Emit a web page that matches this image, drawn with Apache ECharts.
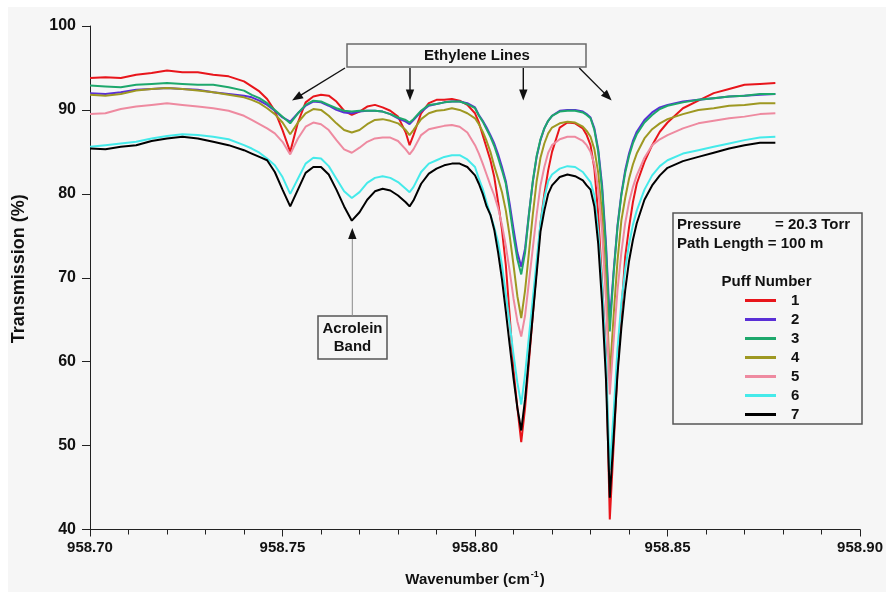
<!DOCTYPE html>
<html><head><meta charset="utf-8">
<script src="https://cdn.jsdelivr.net/npm/echarts@6/dist/echarts.min.js"></script>
<style>html,body{margin:0;padding:0;background:#fff;}#c{width:886px;height:592px;}</style>
</head><body><div id="c"></div>
<script>
// ---- data ----
const wavenumber = [
 958.700,958.704,958.708,958.712,958.716,958.720,958.724,958.728,958.732,958.736,958.740,
 958.742,958.744,958.746,958.748,958.750,958.752,958.754,958.756,958.758,958.760,958.762,958.764,958.766,958.768,958.770,958.772,958.774,958.776,958.778,958.780,958.782,958.783,958.784,958.786,958.788,958.790,958.792,958.794,958.796,958.798,958.800,
 958.801,958.802,958.803,958.804,958.805,958.806,958.807,958.808,958.809,958.810,958.811,958.812,958.813,958.814,958.815,958.816,958.817,958.818,958.819,958.820,
 958.822,958.824,958.826,958.828,
 958.829,958.830,958.831,958.832,958.833,958.834,958.835,958.836,958.837,958.838,958.839,958.840,958.841,958.842,
 958.844,958.846,958.848,958.850,
 958.854,958.858,958.862,958.866,958.870,958.874,958.878];

const puff1 = [93.8,93.9,93.8,94.2,94.4,94.7,94.5,94.5,94.2,94.0,93.4,
 92.8,92.2,91.3,89.9,87.6,85.0,88.5,90.9,91.6,91.8,91.7,91.0,89.9,89.4,89.8,90.4,90.6,90.3,89.9,89.2,87.3,85.8,87.0,89.6,90.8,91.2,91.2,91.3,91.1,90.6,89.6,
 88.5,87.0,85.5,84.0,82.0,79.0,75.7,71.5,65.5,59.0,54.5,50.4,54.5,60.0,65.5,71.0,76.5,80.0,82.8,85.0,
 87.9,88.5,88.4,87.8,
 87.0,85.8,83.0,77.5,69.5,61.0,41.2,50.0,59.0,66.0,72.5,76.0,79.0,81.2,
 83.8,85.8,87.4,88.5,
 90.2,91.1,92.0,92.5,93.0,93.1,93.2];

const puff2 = [92.0,91.9,92.1,92.4,92.5,92.6,92.5,92.4,92.1,91.9,91.7,
 91.5,91.1,90.6,89.9,89.1,88.6,89.6,90.5,91.0,90.9,90.5,90.0,89.7,89.6,89.8,89.9,89.9,89.8,89.5,89.0,88.6,88.3,88.8,89.8,90.5,90.7,90.9,91.0,91.0,90.8,90.3,
 89.4,88.7,87.9,87.0,86.0,84.7,83.2,81.5,78.8,75.8,73.0,71.3,73.5,77.6,81.4,84.4,86.4,87.8,88.7,89.3,
 89.9,90.0,90.0,89.8,
 89.5,89.1,87.8,85.3,81.0,74.2,64.8,70.8,76.2,80.0,82.8,84.8,86.3,87.4,
 88.8,89.7,90.3,90.6,
 91.0,91.2,91.4,91.6,91.7,91.8,91.9];

const puff3 = [92.9,92.8,92.7,93.0,93.1,93.2,93.1,93.0,93.0,92.7,92.3,
 91.8,91.4,90.8,90.0,89.2,88.4,89.6,90.6,91.1,91.0,90.6,90.2,89.9,89.8,89.9,89.9,89.9,89.8,89.5,89.1,88.8,88.5,88.9,89.9,90.6,90.7,90.9,91.0,91.0,90.7,90.2,
 89.3,88.6,87.7,86.8,85.7,84.3,82.8,81.2,78.2,75.0,72.2,70.4,73.0,77.5,81.5,84.5,86.5,87.8,88.7,89.3,
 89.8,89.9,89.9,89.7,
 89.4,89.0,87.6,85.0,80.5,73.5,63.6,70.5,76.0,79.8,82.5,84.5,86.0,87.1,
 88.5,89.4,90.1,90.5,
 90.9,91.2,91.4,91.6,91.7,91.9,91.9];

const puff4 = [91.8,91.7,91.9,92.3,92.5,92.6,92.5,92.3,92.1,91.8,91.5,
 91.2,90.8,90.2,89.5,88.5,87.1,88.5,89.6,90.1,90.0,89.3,88.4,87.6,87.3,87.6,88.3,88.8,88.9,88.7,88.4,87.6,87.0,87.6,88.9,89.6,89.9,90.0,90.2,90.0,89.6,89.0,
 88.3,87.4,86.3,85.0,83.3,81.8,80.2,78.0,75.0,71.5,67.8,65.2,68.5,73.0,77.5,81.5,84.3,86.0,87.2,87.9,
 88.4,88.6,88.5,88.0,
 87.5,86.8,85.3,82.5,77.5,69.5,58.3,65.5,72.0,76.8,79.5,81.8,83.5,84.8,
 86.6,87.7,88.4,88.9,
 89.5,90.0,90.2,90.5,90.6,90.8,90.8];

const puff5 = [89.5,89.6,90.1,90.4,90.6,90.8,90.6,90.4,90.2,89.9,89.3,
 88.8,88.3,87.8,87.2,86.2,84.7,86.6,88.0,88.5,88.3,87.6,86.4,85.3,84.9,85.5,86.2,86.6,86.7,86.7,86.3,85.3,84.7,85.3,87.0,87.7,87.9,88.1,88.2,88.0,87.3,85.8,
 84.8,83.6,82.3,81.0,79.8,78.3,76.3,73.8,70.8,67.5,64.8,63.0,65.5,69.5,73.5,77.5,81.0,83.2,84.9,85.8,
 86.5,86.8,86.8,86.3,
 85.8,85.0,83.5,80.5,75.5,67.5,56.1,62.5,68.5,73.0,76.5,79.0,80.8,82.2,
 84.3,85.8,86.5,87.0,
 87.8,88.4,88.7,89.0,89.2,89.5,89.6];

const puff6 = [85.6,85.8,86.0,86.2,86.6,86.9,87.1,87.0,86.8,86.5,85.8,
 85.4,84.9,84.2,83.4,82.0,80.0,81.8,83.6,84.3,84.2,83.3,81.8,80.3,79.5,80.2,81.3,81.9,82.1,81.9,81.4,80.6,80.2,80.8,82.6,83.6,84.0,84.4,84.6,84.6,84.1,83.2,
 81.8,80.6,79.0,77.5,76.0,74.2,71.5,68.0,64.5,60.8,57.5,54.9,58.5,63.0,67.5,72.0,76.5,79.5,81.5,82.3,
 83.0,83.3,83.2,82.6,
 82.0,81.4,79.8,75.5,69.0,60.5,47.1,54.0,61.5,67.0,71.0,74.0,76.3,78.0,
 80.5,82.2,83.3,84.0,
 84.8,85.2,85.6,86.0,86.4,86.7,86.8];

const puff7 = [85.4,85.3,85.6,85.8,86.3,86.6,86.8,86.6,86.2,85.8,85.2,
 84.8,84.4,84.0,82.6,80.5,78.5,80.5,82.5,83.2,83.2,82.3,80.5,78.5,76.8,77.8,79.3,80.3,80.6,80.4,79.8,79.0,78.5,79.2,81.2,82.4,83.0,83.4,83.6,83.6,83.2,82.2,
 81.2,80.0,78.5,77.5,75.7,73.0,69.8,66.0,62.0,58.0,54.5,51.8,55.5,60.5,65.5,70.5,75.5,78.0,80.0,81.0,
 82.0,82.3,82.1,81.6,
 81.0,80.5,78.5,74.0,67.0,58.0,43.8,51.0,58.5,64.0,68.5,72.0,74.5,76.5,
 79.3,81.0,82.2,83.1,
 83.9,84.4,84.9,85.4,85.8,86.1,86.1];

const puffNames = ['1','2','3','4','5','6','7'];
const puffSeries = [puff1, puff2, puff3, puff4, puff5, puff6, puff7];
const puffColors = ['#e8151b','#5a2fd6','#1ea86c','#9e9822','#ee8aa0','#45eaea','#000000'];

const FONT = '"Liberation Sans", Arial, sans-serif';

const chart = echarts.init(document.getElementById('c'), null, {renderer:'canvas'});

function arrow(x1,y1,x2,y2,color,lw,lineColor){
  const dx=x2-x1, dy=y2-y1, L=Math.hypot(dx,dy), ux=dx/L, uy=dy/L;
  const hl=11, hw=4.2;
  const bx=x2-hl*ux, by=y2-hl*uy;
  return [
    {type:'line', silent:true, shape:{x1:x1,y1:y1,x2:bx+2*ux,y2:by+2*uy}, style:{stroke:lineColor||color, lineWidth:lw}},
    {type:'polygon', silent:true, shape:{points:[[x2,y2],[bx-hw*uy,by+hw*ux],[bx+hw*uy,by-hw*ux]]}, style:{fill:color}}
  ];
}
function txt(x,y,s,align,size){
  return {type:'text', silent:true, x:x, y:y, style:{text:s, font:'bold '+(size||15)+'px '+FONT, fill:'#111', align:align||'left', verticalAlign:'middle'}};
}

const graphics = [
  {type:'rect', silent:true, shape:{x:0,y:0,width:886,height:7}, style:{fill:'#ffffff'}},
  {type:'rect', silent:true, shape:{x:0,y:0,width:8,height:592}, style:{fill:'#ffffff'}},
  // Ethylene lines box
  {type:'rect', silent:true, shape:{x:347,y:44,width:239,height:23}, style:{fill:'#f6f6f6', stroke:'#6a6a6a', lineWidth:1.5}},
  txt(477,56,'Ethylene Lines','center'),
  ...arrow(345,68,292,100.5,'#111',1.4),
  ...arrow(410,68,410,100.5,'#111',1.4),
  ...arrow(523.3,68,523.3,100.5,'#111',1.4),
  ...arrow(579.3,68,611.7,100.5,'#111',1.4),
  // Acrolein band
  {type:'rect', silent:true, shape:{x:318,y:316,width:69,height:43}, style:{fill:'#f6f6f6', stroke:'#555', lineWidth:1.5}},
  txt(352.5,328.5,'Acrolein','center'),
  txt(352.5,347,'Band','center'),
  ...arrow(352.3,316,352.3,228,'#111',1,'#8a8a8a'),
  // info / legend box
  {type:'rect', silent:true, shape:{x:673,y:213,width:189,height:211}, style:{fill:'#f6f6f6', stroke:'#555', lineWidth:1.5}},
  txt(677,225,'Pressure'),
  txt(775,225,'= 20.3 Torr'),
  txt(677,244,'Path Length = 100 m'),
  txt(766.5,282,'Puff Number','center')
];

chart.setOption({
  animation:false,
  backgroundColor:'#f6f6f6',
  grid:{left:90, right:24, top:26, bottom:62, containLabel:false},
  legend:{
    orient:'vertical', left:740, top:288, itemWidth:31, itemHeight:3, itemGap:4, icon:'rect',
    data:puffNames, selectedMode:false, z:10,
    textStyle:{fontFamily:FONT, fontWeight:'bold', fontSize:15, lineHeight:15, color:'#111', padding:[0,0,0,10]}
  },
  xAxis:{
    type:'value', min:958.70, max:958.90, interval:0.05,
    axisLine:{show:true, onZero:false, lineStyle:{color:'#222', width:1}},
    axisTick:{show:true, length:7, lineStyle:{color:'#222'}},
    minorTick:{show:true, splitNumber:5, length:5, lineStyle:{color:'#222'}},
    splitLine:{show:false},
    axisLabel:{formatter:v=>v.toFixed(2), fontFamily:FONT, fontWeight:'bold', fontSize:15, color:'#111', margin:11},
    name:'Wavenumber (cm{sup|-1})', nameLocation:'middle', nameGap:41,
    nameTextStyle:{fontFamily:FONT, fontWeight:'bold', fontSize:15, color:'#111',
      rich:{sup:{fontFamily:FONT, fontWeight:'bold', fontSize:9, color:'#111', verticalAlign:'top', padding:[0,1,9,1]}}}
  },
  yAxis:{
    type:'value', min:40, max:100, interval:10,
    axisLine:{show:true, onZero:false, lineStyle:{color:'#222', width:1}},
    axisTick:{show:true, length:8, lineStyle:{color:'#222'}},
    splitLine:{show:false},
    axisLabel:{fontFamily:FONT, fontWeight:'bold', fontSize:16, color:'#111', margin:14},
    name:'Transmission (%)', nameLocation:'middle', nameRotate:90, nameGap:62,
    nameTextStyle:{fontFamily:FONT, fontWeight:'bold', fontSize:18, color:'#111', padding:[0,0,0,18]}
  },
  graphic:{elements:graphics},
  series: puffNames.map((n,i)=>({
    name:n, type:'line', showSymbol:false, symbol:'none', smooth:false,
    lineStyle:{width:2, color:puffColors[i]}, itemStyle:{color:puffColors[i]},
    data: wavenumber.map((w,j)=>[w, puffSeries[i][j]])
  }))
});
</script></body></html>
